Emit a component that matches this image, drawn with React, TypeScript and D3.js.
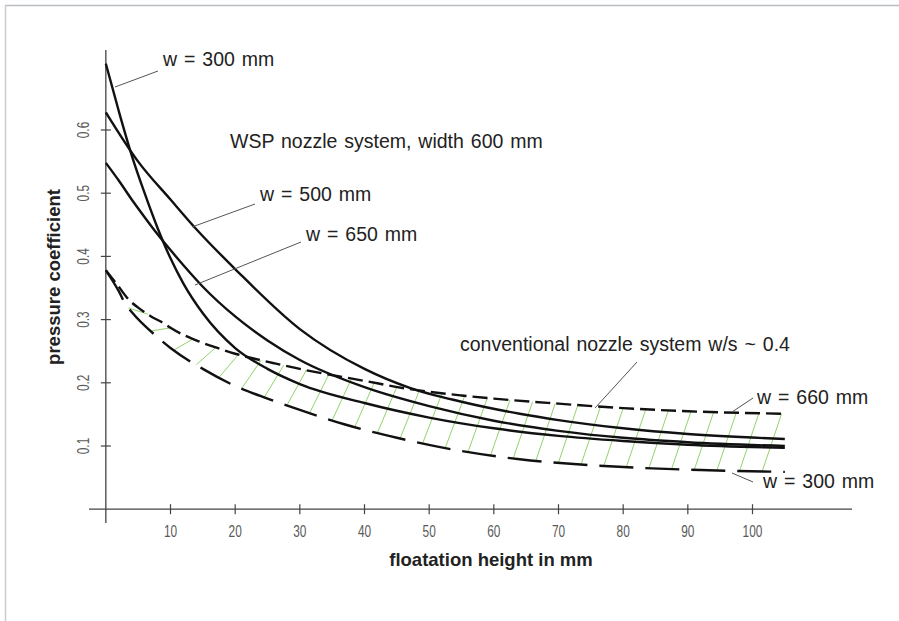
import * as d3 from 'd3'

// floatation height (mm) vs pressure coefficient
const WSP_300: [number, number][] = [
  [0, 0.705], [2, 0.63], [4, 0.56], [6, 0.5], [8, 0.445], [10, 0.397], [12, 0.357],
  [15, 0.31], [20, 0.255], [25, 0.222], [30, 0.198], [40, 0.168], [50, 0.145],
  [60, 0.128], [70, 0.116], [80, 0.108], [90, 0.102], [105, 0.097],
]
const WSP_500: [number, number][] = [
  [0, 0.628], [5, 0.55], [10, 0.49], [14, 0.443], [20, 0.38], [30, 0.285], [40, 0.222],
  [47, 0.192], [55, 0.17], [64, 0.151], [70, 0.141], [80, 0.128], [90, 0.119], [105, 0.111],
]
const WSP_650: [number, number][] = [
  [0, 0.548], [2, 0.52], [4, 0.49], [6, 0.462], [8, 0.435], [10, 0.41], [12, 0.386],
  [15, 0.352], [20, 0.305], [25, 0.267], [30, 0.236], [40, 0.193], [50, 0.163],
  [60, 0.14], [70, 0.124], [80, 0.113], [90, 0.106], [105, 0.1],
]
const CONV_660: [number, number][] = [
  [0, 0.378], [2, 0.352], [3.5, 0.332], [5, 0.319], [7, 0.305], [9, 0.294], [10, 0.287],
  [14, 0.267], [17, 0.256], [20, 0.246], [23, 0.238], [26, 0.231], [30, 0.222],
  [40, 0.203], [47, 0.19], [55, 0.18], [60, 0.175], [70, 0.167], [80, 0.16], [90, 0.155], [105, 0.151],
]
const CONV_300: [number, number][] = [
  [0, 0.378], [2, 0.345], [3, 0.325], [4, 0.312], [8, 0.272], [10, 0.255], [15, 0.222],
  [20, 0.195], [25, 0.175], [30, 0.157], [37, 0.134], [45, 0.113], [55, 0.092],
  [64, 0.079], [76, 0.069], [92, 0.062], [105, 0.059],
]

const X_TICKS = [10, 20, 30, 40, 50, 60, 70, 80, 90, 100]
const Y_TICKS = [0.1, 0.2, 0.3, 0.4, 0.5, 0.6]
const HATCH_X = d3.range(3.5, 105, 3.5)

const W = 899
const H = 621

const interp = (pts: [number, number][], x: number) => {
  const i = Math.min(Math.max(d3.bisector((d: [number, number]) => d[0]).right(pts, x), 1), pts.length - 1)
  const [x0, y0] = pts[i - 1]
  const [x1, y1] = pts[i]
  return y0 + ((y1 - y0) * (x - x0)) / (x1 - x0)
}

export default function App() {
  const x = d3.scaleLinear().domain([10, 100]).range([170.5, 752.5])
  const y = d3.scaleLinear().domain([0.1, 0.6]).range([446, 130])
  const line = d3.line<[number, number]>().x(d => x(d[0])).y(d => y(d[1])).curve(d3.curveMonotoneX)

  const axisColor = '#444'
  const textFont = "'Liberation Sans', Arial, Helvetica, sans-serif"
  const x0 = x(0)
  const y0 = y(0)

  const solid = { fill: 'none', stroke: '#111', strokeWidth: 2.4 }

  return (
    <div style={{ position: 'absolute', left: 0, top: 0 }}>
      <svg width={W} height={H} style={{ display: 'block', background: '#fff' }}>
        {/* frame edges */}
        <line x1={5} x2={W} y1={5.5} y2={5.5} stroke="#b9bdc2" strokeWidth={1.5} />
        <line x1={5.5} x2={5.5} y1={5} y2={H} stroke="#c9ccd0" strokeWidth={1.5} />

        <defs>
          <clipPath id="hatchClip">
            <rect x={x0} y={0} width={x(105) - x0} height={H} />
          </clipPath>
        </defs>

        {/* axes */}
        <line x1={x0} x2={x0} y1={50} y2={523} stroke={axisColor} strokeWidth={1.3} />
        <line x1={89} x2={852} y1={y0} y2={y0} stroke={axisColor} strokeWidth={1.3} />
        {X_TICKS.map(t => (
          <g key={t}>
            <line x1={x(t)} x2={x(t)} y1={y0 - 5} y2={y0 + 5} stroke={axisColor} strokeWidth={1.2} />
            <text transform={`translate(${x(t)},537) scale(0.72,1)`} textAnchor="middle" fontFamily={textFont} fontSize={16.5} fill="#5a5a5a">{t}</text>
          </g>
        ))}
        {Y_TICKS.map(t => (
          <g key={t}>
            <line x1={x0 - 5} x2={x0 + 5} y1={y(t)} y2={y(t)} stroke={axisColor} strokeWidth={1.2} />
            <text transform={`translate(89,${y(t)}) rotate(-90) scale(0.72,1)`} textAnchor="middle" fontFamily={textFont} fontSize={16.5} fill="#5a5a5a">
              {t.toFixed(1)}
            </text>
          </g>
        ))}

        {/* hatched band between conventional nozzle curves */}
        <g clipPath="url(#hatchClip)">
          {HATCH_X.map(h => (
            <line key={h}
              x1={x(h)} y1={y(interp(CONV_300, h))}
              x2={x(h + 3)} y2={y(interp(CONV_660, Math.min(h + 3, 105)))}
              stroke="#93d36b" strokeWidth={1} />
          ))}
        </g>

        {/* conventional nozzle system */}
        <path d={line(CONV_660) ?? ''} fill="none" stroke="#111" strokeWidth={2.4} strokeDasharray="15,6" />
        <path d={line(CONV_300) ?? ''} fill="none" stroke="#111" strokeWidth={2.4} strokeDasharray="34,12" />

        {/* WSP nozzle system */}
        <path d={line(WSP_300) ?? ''} {...solid} />
        <path d={line(WSP_500) ?? ''} {...solid} />
        <path d={line(WSP_650) ?? ''} {...solid} />

        {/* leaders */}
        <g stroke="#555" strokeWidth={1}>
          <line x1={115} y1={87} x2={158} y2={71} />
          <line x1={192} y1={227} x2={255} y2={204} />
          <line x1={195} y1={285} x2={301} y2={242} />
          <line x1={595} y1={408} x2={637} y2={362} />
          <line x1={732} y1={412} x2={753} y2={398} />
          <line x1={732} y1={473} x2={753} y2={482} />
        </g>

        <g fontFamily={textFont} fontSize={19.5} fill="#222" wordSpacing={1.5}>
          <text x={163} y={66}>w = 300 mm</text>
          <text x={230} y={148}>WSP nozzle system, width 600 mm</text>
          <text x={260} y={201}>w = 500 mm</text>
          <text x={306} y={241}>w = 650 mm</text>
          <text x={460} y={351}>conventional nozzle system w/s ~ 0.4</text>
          <text x={757} y={404}>w = 660 mm</text>
          <text x={763} y={488}>w = 300 mm</text>
        </g>

        {/* axis titles */}
        <text x={491} y={566} textAnchor="middle" fontFamily={textFont} fontWeight="bold" fontSize={18.5} fill="#222">
          floatation height in mm
        </text>
        <text transform="translate(60,277) rotate(-90)" textAnchor="middle" fontFamily={textFont} fontWeight="bold" fontSize={18.5} fill="#222">
          pressure coefficient
        </text>
      </svg>
    </div>
  )
}
